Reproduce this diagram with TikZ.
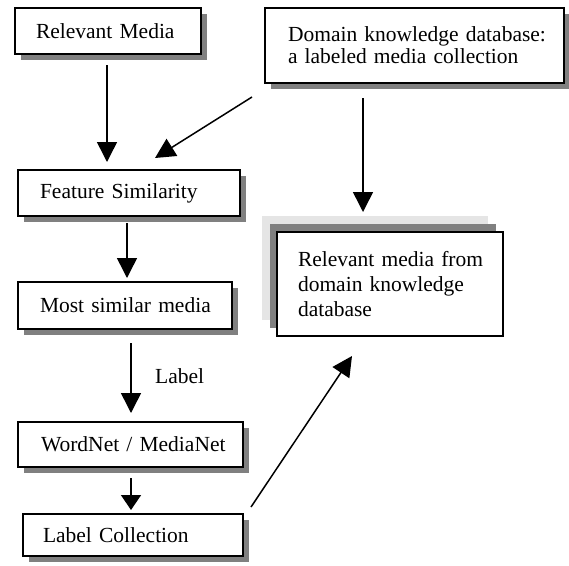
\documentclass[tikz,border=0pt]{standalone}
\usepackage{fontspec}
\setmainfont{Liberation Serif}
\usetikzlibrary{arrows.meta,shadows,calc}

\begin{document}
\begin{tikzpicture}[x=1pt,y=-1pt,
  basebox/.style={draw, line width=1.5pt, fill=white, anchor=north west,
    outer sep=0pt, inner ysep=0pt, align=left,
    font=\fontsize{21.5}{22}\selectfont},
  box/.style={basebox,
    drop shadow={shadow xshift=6pt, shadow yshift=-6pt, fill=gray, opacity=1}},
  backbox/.style={basebox,
    drop shadow={shadow xshift=-15pt, shadow yshift=16pt, fill=gray!20, opacity=1},
    drop shadow={shadow xshift=-7.5pt, shadow yshift=8pt, fill=gray, opacity=1}},
  geom/.style n args={4}{minimum width=#1pt, minimum height=#2pt,
    inner xsep=#3pt, text width=#4pt},
  arr/.style={line width=1.5pt, -{Triangle[width=20pt,length=20pt]}},
  arrshort/.style={line width=1.5pt, -{Triangle[width=20pt,length=15pt]}},
  note/.style={anchor=base west, inner sep=0pt, font=\fontsize{21.5}{22}\selectfont}
]
\useasboundingbox (0,0) rectangle (569,565);

% boxes
\node[box, geom={186}{46}{21}{144}] (rm) at (15,8) {\mbox{Relevant Media}};
\node[box, geom={299}{75}{23}{253}] (dk) at (265,8)
  {\mbox{Domain knowledge database:}\\\mbox{a labeled media collection}};
\node[box, geom={222}{46}{22}{178}] (fs) at (18,170) {\mbox{Feature Similarity}};
\node[backbox, geom={226}{104}{21}{184}, font=\fontsize{21.5}{25}\selectfont] (rmd) at (277,232)
  {\mbox{Relevant media from}\\\mbox{domain knowledge}\\\mbox{database}};
\node[box, geom={214}{47}{22}{170}] (msm) at (18,282) {\mbox{Most similar media}};
\node[box, geom={225}{45}{23}{179}] (wn) at (18,422) {\mbox{WordNet / MediaNet}};
\node[box, geom={220}{42}{20}{180}] (lc) at (23,514) {\mbox{Label Collection}};

% connectors
\draw[arr] ($(rm.south)+(-1,11)$) -- ($(fs.north)+(-22,-8)$);
\draw[arr] ($(dk.south west)+(-13,14)$) -- ($(fs.north)+(26,-12)$);
\draw[arr] ($(dk.south)+(-51.5,15)$) -- ($(rmd.north)+(-27,-20)$);
\draw[arr] ($(fs.south)+(-2,7)$) -- ($(msm.north)+(2,-4)$);
\draw[arr] ($(msm.south)+(6,14)$) -- ($(wn.north)+(0.5,-9)$);
\node[note] (lbl) at (155,383) {Label};
\draw[arrshort] ($(wn.south)+(0.5,11)$) -- ($(lc.north)+(-2,-4)$);
\draw[arr] ($(lc.north east)+(8,-7)$) -- ($(rmd.south west)+(75,20)$);
\end{tikzpicture}
\end{document}
